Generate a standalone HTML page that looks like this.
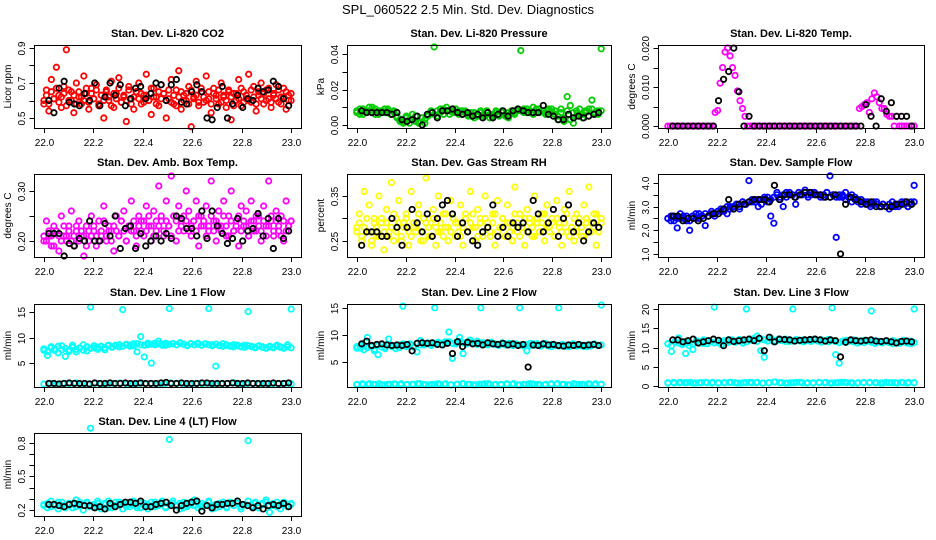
<!DOCTYPE html>
<html><head><meta charset="utf-8"><style>
html,body{margin:0;padding:0;background:#fff;}
svg{display:block;font-family:"Liberation Sans",Arial,sans-serif;}
</style></head><body>
<svg id="chart" width="936" height="540" viewBox="0 0 936 540">
<text x="468" y="14" text-anchor="middle" font-size="13">SPL_060522  2.5 Min. Std. Dev. Diagnostics</text>
</svg>
<script>
const xTicks = [22.0, 22.2, 22.4, 22.6, 22.8, 23.0];
const xTickLabels = ["22.0","22.2","22.4","22.6","22.8","23.0"];

const co2Cloud = [0.58,0.66,0.54,0.72,0.61,0.79,0.63,0.56,0.68,0.89,0.60,0.65,0.53,0.70,0.62,0.58,0.74,0.64,0.55,0.67,0.61,0.69,0.57,0.63,0.50,0.66,0.60,0.71,0.56,0.64,0.73,0.59,0.62,0.48,0.68,0.61,0.55,0.65,0.70,0.58,0.63,0.75,0.60,0.52,0.67,0.62,0.57,0.69,0.64,0.50,0.61,0.72,0.58,0.66,0.77,0.55,0.63,0.60,0.68,0.45,0.62,0.71,0.57,0.65,0.59,0.74,0.61,0.53,0.67,0.63,0.58,0.70,0.62,0.56,0.66,0.49,0.64,0.60,0.72,0.57,0.65,0.61,0.75,0.59,0.68,0.54,0.63,0.70,0.58,0.66,0.61,0.56,0.64,0.69,0.59,0.62,0.67,0.55,0.63,0.60];
const co2Cloud2 = [0.60,0.63,0.58,0.65,0.61,0.67,0.59,0.62,0.64,0.57,0.66,0.60,0.63,0.58,0.65,0.62,0.60,0.67,0.59,0.64,0.61,0.66,0.58,0.63,0.60,0.65,0.62,0.57,0.64,0.61,0.67,0.59,0.63,0.60,0.66,0.58,0.62,0.65,0.61,0.64,0.59,0.63,0.60,0.67,0.62,0.58,0.65,0.61,0.64,0.60,0.66,0.59,0.63,0.57,0.62,0.65,0.60,0.64,0.58,0.66,0.61,0.63,0.59,0.67,0.62,0.60,0.65,0.58,0.64,0.61,0.66,0.59,0.63,0.60,0.65,0.62,0.57,0.64,0.61,0.67,0.59,0.63,0.60,0.66,0.62,0.58,0.65,0.61,0.64,0.60,0.67,0.59,0.63,0.61,0.66,0.58,0.62,0.65,0.60,0.64];
const co2Black = [0.60,0.53,0.67,0.71,0.59,0.58,0.57,0.64,0.60,0.70,0.57,0.62,0.70,0.63,0.69,0.57,0.61,0.67,0.68,0.61,0.64,0.70,0.69,0.60,0.69,0.72,0.59,0.58,0.65,0.69,0.65,0.50,0.49,0.56,0.68,0.50,0.58,0.63,0.56,0.61,0.60,0.67,0.65,0.66,0.71,0.68,0.61,0.57];

const presCloud = [0.007,0.009,0.006,0.008,0.010,0.007,0.009,0.006,0.008,0.007,0.009,0.006,0.008,0.004,0.002,0.001,0.005,0.003,0.006,0.002,0.001,0.004,0.003,0.006,0.007,0.044,0.005,0.009,0.006,0.010,0.008,0.007,0.009,0.006,0.008,0.007,0.005,0.007,0.004,0.006,0.008,0.005,0.007,0.004,0.006,0.008,0.005,0.007,0.006,0.004,0.007,0.006,0.008,0.042,0.009,0.007,0.008,0.006,0.009,0.007,0.008,0.006,0.009,0.007,0.008,0.003,0.007,0.002,0.016,0.011,0.001,0.008,0.006,0.004,0.007,0.009,0.014,0.006,0.008,0.043];
const presCloud2 = [0.008,0.006,0.009,0.007,0.008,0.010,0.006,0.008,0.007,0.009,0.008,0.006,0.007,0.005,0.003,0.002,0.004,0.001,0.003,0.005,0.002,0.004,0.001,0.005,0.008,0.006,0.008,0.007,0.009,0.008,0.006,0.009,0.007,0.008,0.006,0.008,0.006,0.005,0.007,0.005,0.007,0.006,0.008,0.006,0.005,0.007,0.006,0.008,0.005,0.007,0.008,0.007,0.009,0.008,0.007,0.009,0.008,0.010,0.007,0.009,0.008,0.007,0.008,0.009,0.006,0.005,0.009,0.004,0.008,0.003,0.007,0.005,0.009,0.006,0.008,0.005,0.009,0.007,0.006,0.008];
const presBlack = [0.008,0.007,0.007,0.007,0.007,0.007,0.006,0.007,0.003,0.002,0.003,0.005,0.000,0.006,0.007,0.004,0.008,0.008,0.009,0.007,0.006,0.007,0.005,0.006,0.004,0.007,0.004,0.006,0.008,0.005,0.008,0.009,0.008,0.007,0.007,0.007,0.011,0.006,0.005,0.003,0.003,0.006,0.004,0.005,0.004,0.005,0.006,0.007];

const tempCloud = [0,0,0,0,0,0,0,0,0,0,0,0,0,0,0,0,0,0,0,0.0035,0.004,0.011,0.015,0.019,0.020,0.018,0.015,0.013,0.009,0.0065,0.0045,0.0025,0,0,0,0,0,0,0,0,0,0,0,0,0,0,0,0,0,0,0,0,0,0,0,0,0,0,0,0,0,0,0,0,0,0,0,0,0,0,0,0,0,0,0,0,0,0.0045,0.005,0.0055,0.006,0.0035,0.007,0.0085,0.0075,0.006,0.0045,0.0045,0.003,0.0025,0.0025,0,0.0025,0,0,0,0,0,0,0];
const tempBlack = [0,0,0,0,0,0,0,0,0,0.0065,0.012,0.014,0.020,0.0088,0,0.0025,0,0,0,0,0,0,0,0,0,0,0,0,0,0,0,0,0,0,0,0,0,0,0.0055,0.0025,0,0.007,0.0038,0.006,0.0025,0.0025,0.0025,0];

const ambCloud = [0.20,0.24,0.21,0.19,0.23,0.22,0.18,0.25,0.21,0.20,0.23,0.26,0.19,0.22,0.24,0.21,0.17,0.23,0.20,0.25,0.22,0.19,0.24,0.21,0.27,0.20,0.23,0.22,0.18,0.25,0.21,0.24,0.26,0.20,0.23,0.28,0.22,0.19,0.25,0.24,0.21,0.27,0.23,0.20,0.26,0.22,0.31,0.24,0.21,0.28,0.23,0.33,0.25,0.20,0.27,0.24,0.22,0.30,0.26,0.21,0.24,0.28,0.19,0.25,0.23,0.27,0.22,0.32,0.24,0.20,0.26,0.23,0.28,0.21,0.25,0.30,0.22,0.24,0.19,0.27,0.23,0.26,0.21,0.28,0.24,0.22,0.25,0.20,0.27,0.23,0.32,0.24,0.21,0.26,0.22,0.25,0.20,0.28,0.23,0.24];
const ambCloud2 = [0.21,0.20,0.22,0.21,0.19,0.22,0.21,0.20,0.23,0.21,0.22,0.20,0.21,0.23,0.20,0.22,0.21,0.19,0.22,0.21,0.23,0.21,0.20,0.22,0.24,0.21,0.22,0.20,0.23,0.22,0.21,0.24,0.22,0.20,0.23,0.22,0.24,0.21,0.23,0.22,0.24,0.22,0.25,0.23,0.21,0.24,0.23,0.25,0.22,0.24,0.23,0.21,0.25,0.24,0.22,0.23,0.25,0.24,0.22,0.23,0.24,0.22,0.25,0.23,0.24,0.21,0.23,0.25,0.22,0.24,0.23,0.22,0.25,0.23,0.21,0.24,0.22,0.23,0.25,0.22,0.24,0.23,0.21,0.24,0.22,0.25,0.23,0.22,0.24,0.21,0.23,0.25,0.22,0.24,0.23,0.21,0.24,0.22,0.23,0.24];
const ambBlack = [0.215,0.215,0.215,0.17,0.195,0.19,0.205,0.2,0.24,0.2,0.2,0.235,0.21,0.25,0.185,0.225,0.23,0.185,0.215,0.19,0.2,0.21,0.2,0.215,0.205,0.25,0.245,0.225,0.225,0.21,0.26,0.205,0.26,0.23,0.215,0.195,0.205,0.245,0.2,0.22,0.225,0.255,0.21,0.245,0.185,0.245,0.205,0.22];

const rhCloud = [0.28,0.31,0.25,0.36,0.27,0.33,0.24,0.30,0.26,0.35,0.29,0.23,0.32,0.27,0.38,0.25,0.30,0.34,0.26,0.29,0.31,0.24,0.36,0.28,0.27,0.33,0.25,0.30,0.39,0.26,0.29,0.32,0.24,0.35,0.27,0.31,0.28,0.25,0.34,0.30,0.26,0.29,0.33,0.24,0.31,0.27,0.36,0.28,0.25,0.32,0.30,0.26,0.35,0.29,0.27,0.31,0.24,0.34,0.28,0.30,0.26,0.33,0.29,0.25,0.37,0.27,0.31,0.28,0.24,0.32,0.30,0.26,0.35,0.29,0.27,0.31,0.25,0.33,0.28,0.30,0.26,0.34,0.29,0.24,0.32,0.27,0.36,0.28,0.25,0.31,0.30,0.26,0.33,0.29,0.37,0.27,0.31,0.24,0.28,0.30];
const rhCloud2 = [0.27,0.29,0.26,0.28,0.30,0.27,0.25,0.29,0.28,0.26,0.30,0.27,0.29,0.26,0.28,0.31,0.27,0.29,0.25,0.28,0.30,0.27,0.26,0.29,0.28,0.31,0.27,0.25,0.29,0.28,0.26,0.30,0.28,0.27,0.29,0.26,0.31,0.28,0.27,0.30,0.29,0.27,0.26,0.28,0.30,0.27,0.29,0.31,0.28,0.26,0.29,0.27,0.30,0.28,0.26,0.29,0.31,0.27,0.28,0.30,0.26,0.29,0.27,0.28,0.31,0.29,0.26,0.28,0.30,0.27,0.29,0.28,0.26,0.30,0.27,0.29,0.31,0.28,0.27,0.29,0.26,0.30,0.28,0.27,0.29,0.31,0.26,0.28,0.30,0.27,0.29,0.28,0.26,0.30,0.27,0.29,0.28,0.31,0.27,0.29];
const rhBlack = [0.24,0.27,0.27,0.27,0.26,0.26,0.30,0.28,0.24,0.28,0.32,0.29,0.27,0.31,0.26,0.30,0.33,0.34,0.31,0.26,0.29,0.27,0.25,0.24,0.27,0.28,0.33,0.26,0.28,0.26,0.29,0.28,0.29,0.27,0.34,0.31,0.27,0.29,0.32,0.26,0.30,0.33,0.27,0.29,0.25,0.27,0.29,0.28];

const flowCloud = [2.5,2.4,2.6,2.1,2.5,2.6,2.4,2.0,2.6,2.5,2.7,2.6,2.2,2.6,2.7,2.6,2.8,2.8,2.9,2.7,3.0,2.9,3.1,2.9,3.2,3.1,4.1,3.2,3.3,3.0,3.3,3.4,3.2,2.6,2.3,3.6,3.4,3.0,3.6,3.5,3.5,3.1,3.6,3.5,3.7,3.5,3.6,3.6,3.5,3.5,3.4,3.6,4.3,3.5,1.7,3.4,3.5,3.6,3.4,3.5,3.4,3.3,3.3,3.2,3.2,3.1,3.2,3.1,3.0,3.1,3.0,2.9,3.0,3.1,3.0,3.1,3.2,3.0,3.2,3.9];
const flowCloud2 = [2.5,2.6,2.4,2.5,2.7,2.5,2.6,2.4,2.6,2.7,2.5,2.6,2.7,2.6,2.8,2.7,2.8,2.9,2.8,3.0,2.9,3.0,3.1,3.0,3.2,3.1,3.2,3.3,3.2,3.3,3.1,3.3,3.4,3.3,3.4,3.5,3.3,3.5,3.4,3.6,3.5,3.4,3.6,3.5,3.6,3.4,3.5,3.6,3.5,3.4,3.5,3.6,3.4,3.5,3.4,3.5,3.4,3.3,3.4,3.2,3.3,3.2,3.1,3.2,3.1,3.0,3.1,3.2,3.0,3.1,3.0,3.1,3.2,3.0,3.1,3.2,3.1,3.0,3.1,3.2];
const flowBlack = [2.6,2.6,2.4,2.5,2.5,2.4,2.5,2.6,2.7,2.7,2.9,3.3,2.9,3.1,3.1,3.2,3.3,3.3,3.3,3.2,3.9,3.3,3.5,3.5,3.4,3.5,3.6,3.6,3.5,3.5,3.4,3.4,3.5,1.0,3.1,3.4,3.3,3.2,3.1,3.2,3.0,3.0,3.0,3.0,3.1,3.1,3.2,3.1];

const line1Upper = [7.5,6.5,8.2,7.8,7.0,8.4,6.3,7.6,8.5,7.2,7.9,8.6,7.4,16.0,8.0,7.7,8.3,7.6,8.4,8.1,8.5,8.2,15.5,8.6,8.3,8.8,7.2,10.2,6.2,8.6,5.0,8.9,9.3,8.7,8.5,15.7,8.8,8.6,9.0,8.7,8.4,8.8,8.6,8.9,8.5,8.7,15.7,8.6,4.4,8.4,8.8,8.5,8.3,8.6,8.4,8.2,8.5,15.1,8.3,8.1,8.4,8.2,8.0,8.3,8.1,8.5,8.2,8.0,8.6,15.6];
const line1Upper2 = [7.8,7.2,8.0,7.5,8.3,7.6,7.9,7.3,8.1,7.7,8.0,7.5,8.2,7.9,8.4,8.1,8.3,8.0,8.5,8.2,8.4,8.6,8.3,8.7,8.5,8.4,8.8,8.6,8.5,8.9,8.7,8.6,8.8,8.5,8.9,8.7,8.8,8.6,8.9,8.7,8.5,8.8,8.6,8.7,8.5,8.8,8.6,8.4,8.7,8.5,8.3,8.6,8.4,8.2,8.5,8.3,8.1,8.4,8.2,8.0,8.3,8.1,7.9,8.2,8.0,8.3,8.1,7.9,8.2,8.0];
const line1Low = [0.9,1.0,0.8,1.0,0.9,1.1,0.8,0.9,1.0,0.9,0.8,1.0,1.1,0.9,0.8,1.0,0.9,1.0,0.8,0.9,1.1,1.0,0.9,0.8,1.0,0.9,1.0,0.8,0.9,1.0,1.1,0.9,0.8,1.0,0.9,1.0,0.8,0.9,1.0,0.9];
const line1Black = [1.0,1.0,0.9,1.0,1.1,1.0,1.0,1.0,0.9,1.1,1.0,1.0,1.1,1.0,1.0,1.1,1.0,1.0,1.1,1.0,1.0,1.0,1.1,1.2,1.0,1.0,1.1,1.0,1.0,1.0,1.1,1.1,1.0,1.0,1.0,1.0,1.1,1.0,1.0,1.1,1.0,1.0,1.0,1.0,1.1,1.0,1.0,1.1];

const line2Upper = [7.5,8.0,7.2,9.5,7.8,7.0,6.3,8.2,7.6,9.2,7.9,7.4,8.1,15.3,7.8,8.3,7.7,6.8,8.9,8.1,8.4,8.0,15.0,8.5,8.2,8.7,10.5,5.6,8.3,9.5,6.5,8.6,9.0,8.4,8.8,15.0,8.5,8.2,8.6,8.3,8.1,8.5,8.3,8.4,8.0,8.2,15.0,8.1,7.0,8.4,8.0,8.3,8.1,8.4,7.9,8.2,8.0,15.0,8.1,7.8,8.0,8.3,7.9,8.2,8.0,7.8,8.1,8.3,8.0,15.5];
const line2Upper2 = [7.8,7.5,8.1,7.6,7.9,7.3,8.0,7.7,7.4,8.2,7.8,8.0,7.6,8.3,8.0,8.2,7.9,8.4,8.1,8.3,8.5,8.2,8.4,8.6,8.3,8.5,8.7,8.4,8.6,8.8,8.5,8.3,8.6,8.4,8.2,8.5,8.3,8.1,8.4,8.2,8.0,8.3,8.1,8.2,8.0,8.3,8.1,7.9,8.2,8.0,8.3,8.1,7.9,8.2,8.0,7.8,8.1,7.9,8.2,8.0,7.8,8.1,7.9,8.0,7.8,8.1,7.9,8.2,8.0,8.1];
const line2Low = [0.8,0.7,0.9,0.8,0.7,0.8,0.9,0.7,0.8,0.8,0.9,0.7,0.8,0.9,0.8,0.7,0.8,0.9,0.8,0.7,0.8,0.9,0.7,0.8,0.8,0.9,0.7,0.8,0.9,0.8,0.7,0.8,0.9,0.8,0.7,0.8,0.8,0.9,0.7,0.8];
const line2Low2 = [0.7,0.9,0.8,0.8,0.9,0.7,0.8,0.8,0.9,0.7,0.8,0.9,0.8,0.7,0.8,0.8,0.9,0.7,0.8,0.9,0.8,0.7,0.8,0.9,0.8,0.8,0.7,0.9,0.8,0.7,0.8,0.9,0.8,0.7,0.8,0.9,0.8,0.8,0.7,0.9,0.8,0.7,0.8,0.9,0.8];
const line2Black = [8.3,8.8,8.0,8.2,8.3,8.1,8.0,8.1,8.0,8.2,7.0,8.4,8.5,8.4,8.5,8.2,8.1,8.4,6.5,8.7,7.8,8.6,8.3,8.4,8.1,8.5,8.3,8.2,8.4,8.1,8.3,8.0,8.2,4.0,8.1,8.0,8.3,8.1,8.2,8.0,7.9,8.1,8.0,8.2,8.0,8.1,8.2,8.0];

const line3Upper = [11.0,9.0,11.5,12.5,11.0,8.5,10.5,9.5,11.8,11.2,12.0,11.0,11.5,20.5,11.3,10.8,11.9,11.4,12.0,11.6,11.8,11.2,20.0,11.9,12.3,13.0,9.2,7.5,11.7,12.4,11.5,12.0,11.8,12.2,11.6,20.0,12.1,11.7,12.0,11.8,11.9,12.2,11.7,12.0,11.8,12.1,20.3,8.2,6.0,11.6,11.9,11.7,12.0,11.8,11.5,11.9,11.7,19.5,11.8,11.6,11.4,11.7,11.5,11.8,11.3,11.6,11.9,11.5,11.7,20.0];
const line3Upper2 = [11.0,10.5,11.5,11.2,10.8,11.6,11.3,10.9,11.7,11.4,11.1,11.8,11.5,11.2,11.9,11.6,11.3,12.0,11.7,11.4,12.1,11.8,11.5,12.2,11.9,11.6,12.3,12.0,11.7,12.1,11.8,12.2,11.9,11.6,12.0,11.7,12.1,11.8,11.5,11.9,11.6,12.0,11.7,11.4,11.8,11.5,11.9,11.6,11.3,11.7,11.4,11.8,11.5,11.2,11.6,11.3,11.7,11.4,11.1,11.5,11.2,11.6,11.3,11.0,11.4,11.1,11.5,11.2,11.0,11.3];
const line3Low = [0.9,0.8,1.0,0.9,0.8,0.9,1.0,0.8,0.9,0.9,1.0,0.8,0.9,1.0,0.9,0.8,0.9,1.1,0.9,0.8,0.9,1.0,0.8,0.9,0.9,1.0,0.8,0.9,1.0,0.9,0.8,0.9,1.0,0.9,0.8,0.9,0.9,1.0,0.8,0.9];
const line3Low2 = [0.8,1.0,0.9,0.9,1.0,0.8,0.9,0.9,1.0,0.8,0.9,1.0,0.9,0.8,0.9,0.9,1.0,0.8,0.9,1.1,0.9,0.8,0.9,1.0,0.9,0.9,0.8,1.0,0.9,0.8,0.9,1.0,0.9,0.8,0.9,1.0,0.9,0.9,0.8,1.0,0.9,0.8,0.9,1.0,0.9];
const line3Black = [12.0,12.0,11.5,11.8,12.2,11.2,11.5,11.8,12.2,11.9,10.5,12.0,11.6,11.8,12.0,12.2,11.8,12.4,9.2,12.7,11.5,12.2,12.1,12.0,11.7,11.9,12.0,12.1,12.2,12.0,11.7,12.0,11.8,7.6,11.4,12.0,11.8,11.7,11.9,12.0,11.7,11.6,11.8,11.5,11.2,11.6,11.7,11.5];

const line4Cyan = [0.25,0.22,0.28,0.24,0.21,0.27,0.23,0.26,0.22,0.29,0.24,0.20,0.27,0.93,0.23,0.26,0.21,0.25,0.28,0.22,0.24,0.27,0.21,0.25,0.23,0.28,0.22,0.26,0.24,0.21,0.27,0.23,0.25,0.28,0.22,0.83,0.26,0.24,0.21,0.27,0.23,0.25,0.29,0.22,0.26,0.24,0.28,0.21,0.25,0.23,0.27,0.22,0.26,0.24,0.28,0.21,0.25,0.82,0.23,0.27,0.22,0.26,0.29,0.18,0.24,0.27,0.21,0.25,0.23,0.26];
const line4Cyan2 = [0.24,0.26,0.23,0.25,0.27,0.24,0.22,0.26,0.25,0.23,0.27,0.24,0.26,0.23,0.25,0.28,0.24,0.26,0.22,0.25,0.27,0.24,0.26,0.23,0.25,0.27,0.24,0.22,0.26,0.25,0.23,0.27,0.24,0.26,0.23,0.25,0.28,0.24,0.26,0.22,0.25,0.27,0.24,0.26,0.23,0.25,0.27,0.24,0.22,0.26,0.25,0.23,0.27,0.24,0.26,0.23,0.25,0.28,0.24,0.26,0.22,0.25,0.27,0.24,0.26,0.23,0.25,0.27,0.24,0.25];
const line4Black = [0.25,0.25,0.24,0.23,0.25,0.26,0.25,0.24,0.24,0.22,0.23,0.21,0.26,0.23,0.25,0.27,0.27,0.26,0.28,0.23,0.23,0.25,0.26,0.27,0.24,0.20,0.24,0.26,0.27,0.28,0.19,0.24,0.22,0.25,0.25,0.26,0.26,0.28,0.25,0.24,0.22,0.24,0.21,0.24,0.25,0.24,0.26,0.23];

const colLeft = [34, 347, 658], colW = [267, 264, 266];
const rowTop = [45, 174, 304, 433], boxH = 83;

const panels = [
 {id:'co2', title:'Stan. Dev. Li-820 CO2', ylab:'Licor ppm', c:0, r:0, ylim:[0.443,0.917], ticks:[0.5,0.6,0.7,0.8,0.9], labs:{'0.5':'0.5','0.7':'0.7','0.9':'0.9'}, color:'#ff0000', series:[co2Cloud,co2Cloud2], black:co2Black},
 {id:'pressure', title:'Stan. Dev. Li-820 Pressure', ylab:'kPa', c:1, r:0, ylim:[-0.0017,0.0451], ticks:[0,0.01,0.02,0.03,0.04], labs:{'0':'0.00','0.02':'0.02','0.04':'0.04'}, color:'#00cc00', series:[presCloud,presCloud2], black:presBlack},
 {id:'li820-temp', title:'Stan. Dev. Li-820 Temp.', ylab:'degrees C', c:2, r:0, ylim:[-0.0005,0.0208], ticks:[0,0.005,0.01,0.015,0.02], labs:{'0':'0.000','0.01':'0.010','0.02':'0.020'}, color:'#ff00ff', series:[tempCloud], black:tempBlack},
 {id:'amb-temp', title:'Stan. Dev. Amb. Box Temp.', ylab:'degrees C', c:0, r:1, ylim:[0.168,0.334], ticks:[0.2,0.25,0.3], labs:{'0.2':'0.20','0.3':'0.30'}, color:'#ff00ff', series:[ambCloud,ambCloud2], black:ambBlack},
 {id:'rh', title:'Stan. Dev. Gas Stream RH', ylab:'percent', c:1, r:1, ylim:[0.214,0.399], ticks:[0.25,0.3,0.35], labs:{'0.25':'0.25','0.35':'0.35'}, color:'#ffff00', series:[rhCloud,rhCloud2], black:rhBlack},
 {id:'sample-flow', title:'Stan. Dev. Sample Flow', ylab:'ml/min', c:2, r:1, ylim:[0.87,4.38], ticks:[1,1.5,2,2.5,3,3.5,4], labs:{'1':'1.0','2':'2.0','3':'3.0','4':'4.0'}, color:'#0000ff', series:[flowCloud,flowCloud2], black:flowBlack},
 {id:'line1', title:'Stan. Dev. Line 1 Flow', ylab:'ml/min', c:0, r:2, ylim:[0.3,16.6], ticks:[5,10,15], labs:{'5':'5','10':'10','15':'15'}, color:'#00ffff', series:[line1Upper,line1Upper2,line1Low], black:line1Black},
 {id:'line2', title:'Stan. Dev. Line 2 Flow', ylab:'ml/min', c:1, r:2, ylim:[0.3,15.7], ticks:[5,10,15], labs:{'5':'5','10':'10','15':'15'}, color:'#00ffff', series:[line2Upper,line2Upper2,line2Low,line2Low2], black:line2Black},
 {id:'line3', title:'Stan. Dev. Line 3 Flow', ylab:'ml/min', c:2, r:2, ylim:[-0.2,21.3], ticks:[0,5,10,15,20], labs:{'0':'0','5':'5','10':'10','15':'15','20':'20'}, color:'#00ffff', series:[line3Upper,line3Upper2,line3Low,line3Low2], black:line3Black},
 {id:'line4', title:'Stan. Dev. Line 4 (LT) Flow', ylab:'ml/min', c:0, r:3, ylim:[0.147,0.888], ticks:[0.2,0.3,0.4,0.5,0.6,0.7,0.8], labs:{'0.2':'0.2','0.5':'0.5','0.8':'0.8'}, color:'#00ffff', series:[line4Cyan,line4Cyan2], black:line4Black}
];

const NS = 'http://www.w3.org/2000/svg';
const svg = document.getElementById('chart');
function mk(tag, attrs, parent){
  const e = document.createElementNS(NS, tag);
  for (const k in attrs) e.setAttribute(k, attrs[k]);
  parent.appendChild(e);
  return e;
}

panels.forEach(p => {
  const L = colLeft[p.c], W = colW[p.c], T = rowTop[p.r], B = T + boxH;
  const xs = v => L + W * (v - 21.96) / 1.08;
  const ys = v => B - boxH * (v - p.ylim[0]) / (p.ylim[1] - p.ylim[0]);
  const g = mk('g', {}, svg);
  
  

  const t = mk('text', {x: L + W/2, y: T - 8, 'text-anchor':'middle', 'font-size':'11', 'font-weight':'bold'}, g);
  t.textContent = p.title;
  
  

  const pts = mk('g', {fill:'none', 'stroke-width':'1.8'}, g);
  
  
  p.series.forEach((arr, si) => {
    const n = arr.length;
    arr.forEach((v, i) => {
      const cx = xs(22 + i / (n - 1));
      const c = mk('circle', {cx: cx, cy: ys(v), r: 2.7, stroke: p.color}, pts);
      
      
    });
  });
  const nb = p.black.length;
  p.black.forEach((v, i) => {
    const cx = xs(22.02 + i * 0.97 / (nb - 1));
    const c = mk('circle', {cx: cx, cy: ys(v), r: 2.7, stroke: '#000'}, pts);
    
    
  });

  const box = mk('rect', {x: L + 0.5, y: T + 0.5, width: W, height: boxH, fill: 'none', stroke: '#000', 'stroke-width': 1}, g);
  
  

  const xa = mk('g', {}, g);
  
  
  xTicks.forEach((v, i) => {
    const x = Math.round(xs(v)) + 0.5;
    mk('line', {x1: x, x2: x, y1: B + 0.5, y2: B + 5, stroke: '#000'}, xa);
    const lt = mk('text', {x: x, y: B + 18, 'text-anchor': 'middle', 'font-size': '10'}, xa);
    lt.textContent = xTickLabels[i];
    
    
  });

  const ya = mk('g', {}, g);
  
  
  p.ticks.forEach(v => {
    const y = Math.round(ys(v)) + 0.5;
    mk('line', {x1: L - 4.5, x2: L + 0.5, y1: y, y2: y, stroke: '#000'}, ya);
    const key = String(v);
    if (p.labs[key] !== undefined) {
      const lt = mk('text', {x: L - 9, y: y, 'text-anchor': 'middle', 'font-size': '10', transform: 'rotate(-90 ' + (L - 9) + ' ' + y + ')'}, ya);
      lt.textContent = p.labs[key];
      
      
    }
  });
  const yt = mk('text', {x: L - 23, y: T + boxH/2, 'text-anchor': 'middle', 'font-size': '10', transform: 'rotate(-90 ' + (L - 23) + ' ' + (T + boxH/2) + ')'}, g);
  yt.textContent = p.ylab;
  
  
});
</script>
</body></html>
